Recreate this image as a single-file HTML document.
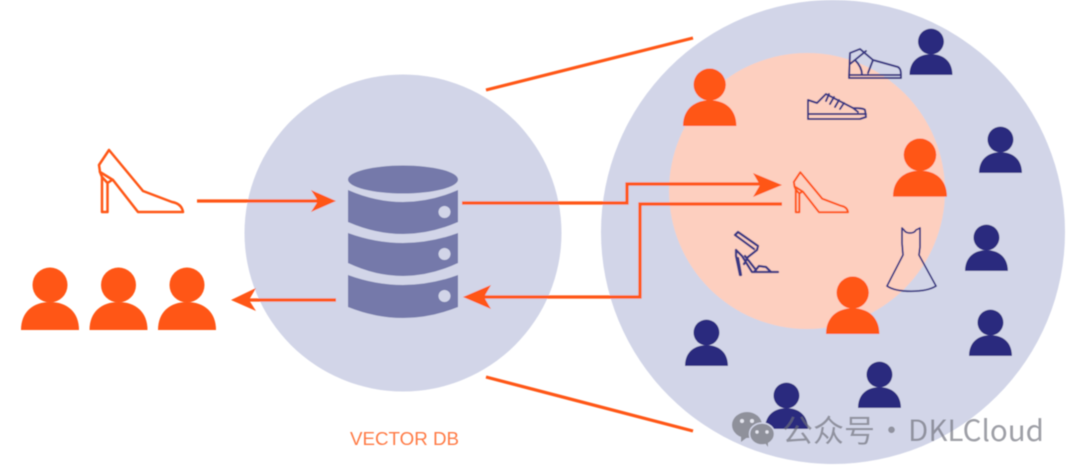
<!DOCTYPE html>
<html><head><meta charset="utf-8"><style>
html,body{margin:0;padding:0;background:#fff;width:1080px;height:474px;overflow:hidden}
svg{display:block}
</style></head><body>
<svg width="1080" height="474" viewBox="0 0 1080 474" xmlns="http://www.w3.org/2000/svg">
<defs>
<filter id="b" x="-5%" y="-5%" width="110%" height="110%"><feGaussianBlur stdDeviation="0.6"/></filter>
<g id="p"><circle cx="29" cy="17" r="17.500"/><path d="M0 62C0 44 12 34 29 34S58 44 58 62Z"/></g>
<g id="heel" fill="none" stroke-linejoin="round" stroke-linecap="round"><path d="M109 150L99 165L100 172L113 180L138 212L183 212C182 206 178 203 172 202L143 191Z"/><path d="M100 172L102 177V212H107.500V183L112 180M102 177L107.500 183"/></g>
</defs>
<g filter="url(#b)">
<circle cx="403" cy="233" r="158.500" fill="#d2d5e8"/>
<circle cx="833" cy="232" r="232" fill="#d2d5e8"/>
<circle cx="807" cy="191" r="138" fill="#fdcfbf"/>

<g fill="#7479aa">
<ellipse cx="403" cy="179.500" rx="55" ry="14"/>
<path d="M348 190Q403 214 458 190V222Q403 246 348 222Z"/>
<path d="M348 233Q403 253 458 233V263Q403 289 348 263Z"/>
<path d="M348 275Q403 295 458 275V307Q403 329 348 307Z"/>
</g>
<g fill="#d2d5e8"><circle cx="444.500" cy="212" r="6"/><circle cx="444.500" cy="254" r="6"/><circle cx="444.500" cy="296" r="6"/></g>

<g fill="none" stroke="#ff5714" stroke-width="3.200">
<path d="M486 90L693 38M486 377L693 431"/>
<path d="M197 201H322M336 300H248"/>
<path d="M462 203H627V184H768"/>
<path d="M782 204H640V297H478"/>
</g>
<g fill="#ff5714">
<path d="M336 201L311 190L318 201L311 212Z"/>
<path d="M231 300L256 288L249 300L256 311Z"/>
<path d="M782 185L753 173L760 185L753 197Z"/>
<path d="M463 297L491 285L484 297L491 309Z"/>
</g>

<g fill="#ff5714">
<use href="#p" transform="translate(21 268)"/>
<use href="#p" transform="translate(89.500 268)"/>
<use href="#p" transform="translate(158 268)"/>
<use href="#p" transform="translate(683 69) scale(.92)"/>
<use href="#p" transform="translate(893 139) scale(.93)"/>
<use href="#p" transform="translate(826 277) scale(.92)"/>
</g>
<g fill="#2b2a7e">
<use href="#p" transform="translate(909.500 29) scale(.74)"/>
<use href="#p" transform="translate(979 127) scale(.74)"/>
<use href="#p" transform="translate(965 225) scale(.74)"/>
<use href="#p" transform="translate(969 310) scale(.74)"/>
<use href="#p" transform="translate(685 320) scale(.74)"/>
<use href="#p" transform="translate(765 383) scale(.74)"/>
<use href="#p" transform="translate(858 362) scale(.74)"/>
</g>

<use href="#heel" stroke="#ff5714" stroke-width="2.500"/>
<use href="#heel" stroke="#ff5714" stroke-width="3.200" transform="translate(730 75.500) scale(.645)"/>

<g fill="none" stroke="#3a3884" stroke-width="2" stroke-linejoin="round" stroke-linecap="round">
<path d="M849 78L850 53L860 49L873 60L898 67C901 69 901 72 901 78Z"/>
<path d="M849 75H901M850 64L866 51M862 75C862 68 858 63 855 60M873 60L868 73"/>
<path d="M808 119V100L817 103L826 94L853 108C860 108 865 109 865 110L866 117L860 119Z"/>
<path d="M808 114H866M829 94L826 101M834 97L830 104M839 100L835 107M844 103L840 109M853 108L858 112"/>
<path stroke-width="2.300" d="M735 235L738 232L758 246L757 250L748 257L744 264M735 235L754 249M736 250L742 256L752 272H778M736 250V256L740 275M738 258L741 275M745 256L756 270M754 272L759 266L766 267L771 272"/>
<path stroke-width="1.800" d="M902 228L904 230C906 234 914 234 916 230L920 228L920 247L919 255L936 286C925 293 897 293 887 286L903 255L902 243Z"/>
</g>

<text x="350" y="445" font-family="'Liberation Sans',sans-serif" font-size="18" fill="#ff7a45" textLength="109" lengthAdjust="spacingAndGlyphs">VECTOR DB</text>

<g fill="#8f919b">
<ellipse cx="747" cy="425" rx="15" ry="13"/><path d="M741 434L741 442L749 436Z"/>
</g>
<g fill="#8f919b" stroke="#d2d5e8" stroke-width="1.500">
<ellipse cx="762" cy="434" rx="12.500" ry="11"/>
</g>
<path d="M765 443L768 447V441Z" fill="#8f919b"/>
<g fill="#e4e5ee"><circle cx="742" cy="421" r="2"/><circle cx="752" cy="421" r="2"/><circle cx="757" cy="432" r="1.700"/><circle cx="767" cy="432" r="1.700"/></g>
<g font-family="'Noto Sans CJK SC','Liberation Sans',sans-serif" font-size="31" fill="#70727c" fill-opacity=".68">
<text x="782" y="442">公众号</text>
<text x="876" y="442">·</text>
<text x="908" y="441" font-size="29" textLength="136" lengthAdjust="spacingAndGlyphs">DKLCloud</text>
</g>
</g>
</svg>
</body></html>
